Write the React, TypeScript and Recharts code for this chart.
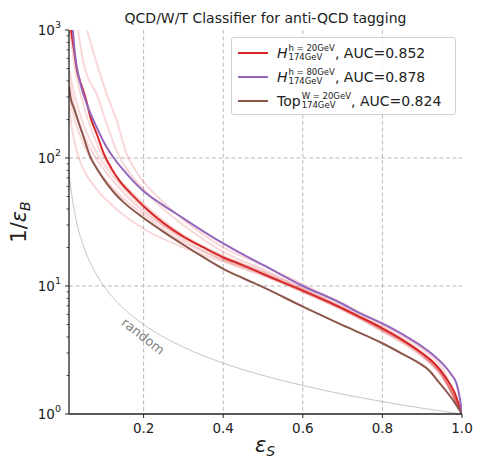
import React from "react";
import { LineChart, Line, XAxis, YAxis, CartesianGrid, ReferenceDot, Legend } from "recharts";

// signal efficiency (x) and background rejection 1/eps_B (y)
const effH20 = [0.0175, 0.025, 0.033, 0.044, 0.054, 0.067, 0.083, 0.1, 0.12, 0.14, 0.17, 0.2, 0.25, 0.3, 0.35, 0.4, 0.45, 0.5, 0.6, 0.69, 0.74, 0.8, 0.85, 0.9, 0.93, 0.958, 0.98, 1.0];
const rejH20 = [1000, 700, 475, 370, 295, 205, 152, 108, 82, 66, 52, 42, 31, 24.3, 20, 16.7, 14.5, 12.4, 9.2, 6.9, 5.8, 4.67, 3.8, 2.98, 2.5, 1.95, 1.5, 1.0];

const effH80 = [0.022, 0.026, 0.042, 0.058, 0.083, 0.108, 0.125, 0.15, 0.2, 0.248, 0.3, 0.348, 0.4, 0.44, 0.5, 0.6, 0.69, 0.74, 0.8, 0.85, 0.9, 0.93, 0.958, 0.975, 0.986, 0.995, 1.0];
const rejH80 = [1000, 720, 373, 260, 171, 120, 100, 80, 55, 43, 33.8, 27, 21.5, 18.3, 14.6, 10.0, 7.5, 6.2, 5.1, 4.2, 3.36, 2.85, 2.34, 2.0, 1.74, 1.3, 1.0];

const effTop = [0.0125, 0.016, 0.025, 0.033, 0.05, 0.065, 0.08, 0.1, 0.125, 0.15, 0.2, 0.25, 0.3, 0.35, 0.4, 0.45, 0.5, 0.6, 0.69, 0.8, 0.85, 0.9, 0.917, 0.94, 0.958, 0.98, 1.0];
const rejTop = [360, 300, 245, 205, 143, 104, 85, 68, 54, 45, 34, 26.5, 21, 16.8, 13.6, 11.5, 9.8, 6.9, 5.1, 3.57, 2.95, 2.41, 2.2, 1.8, 1.54, 1.25, 1.0];

// faint individual runs
const effRun1 = [0.058, 0.083, 0.108, 0.133, 0.158, 0.18, 0.2, 0.25, 0.3, 0.4, 0.5, 0.6, 0.7, 0.8, 0.9, 0.95, 1.0];
const rejRun1 = [1000, 536, 311, 194, 106, 80, 65, 45, 33, 20, 14.5, 10.3, 7.3, 5.0, 3.2, 2.3, 1.0];
const effRun2 = [0.035, 0.05, 0.083, 0.108, 0.133, 0.16, 0.2, 0.25, 0.3, 0.4, 0.5, 0.6, 0.7, 0.8, 0.9, 0.95, 1.0];
const rejRun2 = [1000, 536, 311, 182, 112, 80, 57, 40, 30, 18.5, 13.5, 9.6, 6.9, 4.8, 3.0, 2.1, 1.0];
const effRun3 = [0.015, 0.025, 0.04, 0.06, 0.09, 0.12, 0.16, 0.2, 0.3, 0.4, 0.5, 0.6, 0.7, 0.8, 0.9, 0.95, 1.0];
const rejRun3 = [1000, 560, 330, 200, 115, 80, 58, 44, 25, 17.2, 13, 9.5, 6.8, 4.6, 2.9, 2.0, 1.0];
const effRun4 = [0.0125, 0.02, 0.04, 0.06, 0.09, 0.13, 0.2, 0.3, 0.4, 0.5, 0.6, 0.7, 0.8, 0.9, 0.95, 1.0];
const rejRun4 = [500, 380, 220, 150, 100, 68, 40, 23, 16, 12.3, 9.0, 6.5, 4.5, 2.85, 2.0, 1.0];
const effRun5 = [0.0125, 0.02, 0.033, 0.05, 0.08, 0.12, 0.2, 0.3, 0.4, 0.5, 0.6, 0.7, 0.8, 0.9, 0.95, 1.0];
const rejRun5 = [260, 170, 110, 80, 58, 43, 28, 20, 15.5, 12, 9.0, 6.5, 4.4, 2.8, 1.95, 1.0];
const effRun6 = [0.0125, 0.02, 0.04, 0.07, 0.1, 0.15, 0.2, 0.3, 0.4, 0.5, 0.6, 0.7, 0.8, 0.9, 0.95, 1.0];
const rejRun6 = [330, 240, 150, 95, 70, 48, 36, 22, 16, 12.4, 9.1, 6.6, 4.5, 2.9, 2.0, 1.0];
const effRun7 = [0.0125, 0.025, 0.05, 0.08, 0.12, 0.2, 0.3, 0.4, 0.5, 0.6, 0.7, 0.8, 0.9, 0.95, 1.0];
const rejRun7 = [420, 260, 150, 100, 68, 38, 24, 17, 12.8, 9.3, 6.7, 4.6, 2.95, 2.05, 1.0];

const effRandom = [0.0125, 0.015, 0.02, 0.03, 0.05, 0.07, 0.1, 0.15, 0.2, 0.3, 0.4, 0.5, 0.6, 0.7, 0.8, 0.9, 1.0];
const rejRandom = [80, 66.7, 50, 33.3, 20, 14.3, 10, 6.67, 5, 3.33, 2.5, 2, 1.67, 1.43, 1.25, 1.11, 1.0];

const xTicks = [0.2, 0.4, 0.6, 0.8, 1.0];
const yMajor = [1, 10, 100, 1000];
const yMinor = [2, 3, 4, 5, 6, 7, 8, 9, 20, 30, 40, 50, 60, 70, 80, 90, 200, 300, 400, 500, 600, 700, 800, 900];

const legendRows = [
  { color: "#d62728", head: "H", sup: "h = 20GeV", sub: "174GeV", auc: "0.852", italic: true },
  { color: "#9467bd", head: "H", sup: "h = 80GeV", sub: "174GeV", auc: "0.878", italic: true },
  { color: "#8c564b", head: "Top", sup: "W = 20GeV", sub: "174GeV", auc: "0.824", italic: false },
];

const FONT = "DejaVu Sans, sans-serif";

const zip = (xs: number[], ys: number[]) => xs.map((x, i) => ({ x, y: ys[i] }));

const runs = [
  zip(effRun1, rejRun1),
  zip(effRun2, rejRun2),
  zip(effRun3, rejRun3),
  zip(effRun4, rejRun4),
  zip(effRun5, rejRun5),
  zip(effRun6, rejRun6),
  zip(effRun7, rejRun7),
];

function LogTick(props: any) {
  const { x, y, payload } = props;
  const v = payload.value;
  if (!yMajor.includes(v)) {
    return <line x1={x - 2.5} x2={x} y1={y} y2={y} stroke="#222" strokeWidth={0.8} />;
  }
  return (
    <g>
      <line x1={x - 4} x2={x} y1={y} y2={y} stroke="#222" strokeWidth={1} />
      <text x={x - 8} y={y + 5} textAnchor="end" fontFamily={FONT} fontSize={13.5} fill="#222">
        10
        <tspan dy={-7} fontSize={9.5}>{Math.round(Math.log10(v))}</tspan>
      </text>
    </g>
  );
}

function LegendBox() {
  return (
    <div
      style={{
        width: 223,
        height: 76,
        border: "1px solid #d0d0d0",
        borderRadius: 3,
        background: "rgba(255,255,255,0.8)",
        fontFamily: FONT,
        color: "#222",
        boxSizing: "content-box",
      }}
    >
      {legendRows.map((r, i) => (
        <div key={i} style={{ position: "relative", height: 24, marginTop: i === 0 ? 3 : 0 }}>
          <svg width={32} height={24} style={{ position: "absolute", left: 5, top: 0 }}>
            <line x1={1} x2={31} y1={12} y2={12} stroke={r.color} strokeWidth={2} />
          </svg>
          <div style={{ position: "absolute", left: 45, top: 3, whiteSpace: "nowrap", display: "flex", alignItems: "center", fontSize: 14 }}>
            <span style={{ fontStyle: r.italic ? "italic" : "normal" }}>{r.head}</span>
            <span style={{ display: "inline-flex", flexDirection: "column", fontSize: 8.5, lineHeight: "9px", marginLeft: 1 }}>
              <span>{r.sup}</span>
              <span>{r.sub}</span>
            </span>
            <span>, AUC={r.auc}</span>
          </div>
        </div>
      ))}
    </div>
  );
}

export default function App() {
  return (
    <div style={{ position: "absolute", left: 0, top: 0, width: 477, height: 458, background: "#fff" }}>
      <LineChart width={477} height={458} margin={{ top: 30, right: 15, left: 0, bottom: 0 }}>
        <text x={265.5} y={23} textAnchor="middle" fontFamily={FONT} fontSize={14} fill="#222">
          QCD/W/T Classifier for anti-QCD tagging
        </text>
        <CartesianGrid
          verticalValues={[0.2, 0.4, 0.6, 0.8]}
          horizontalValues={[10, 100]}
          stroke="#b0b0b0"
          strokeDasharray="4 2.5"
          strokeWidth={0.9}
        />
        <XAxis
          dataKey="x"
          type="number"
          domain={[0.0125, 1]}
          allowDataOverflow
          ticks={xTicks}
          interval={0}
          tickFormatter={(v: number) => v.toFixed(1)}
          height={44}
          tickSize={4}
          tickMargin={5}
          axisLine={{ stroke: "#222", strokeWidth: 1.3 }}
          tickLine={{ stroke: "#222" }}
          tick={{ fontFamily: FONT, fontSize: 13.5, fill: "#222" }}
          label={{
            content: () => (
              <text x={265} y={452} textAnchor="middle" fontFamily={FONT} fontSize={21} fill="#222">
                <tspan fontStyle="italic">ε</tspan>
                <tspan dy={4} fontSize={14} fontStyle="italic">S</tspan>
              </text>
            ),
          }}
        />
        <XAxis xAxisId="top" orientation="top" type="number" domain={[0.0125, 1]} height={0} tick={false} tickLine={false} axisLine={{ stroke: "#444", strokeWidth: 1.3 }} />
        <YAxis
          type="number"
          scale="log"
          domain={[1, 1000]}
          allowDataOverflow
          ticks={[...yMajor, ...yMinor].sort((a, b) => a - b)}
          interval={0}
          width={69}
          tickSize={0}
          tickMargin={0}
          tickLine={false}
          tick={<LogTick />}
          axisLine={{ stroke: "#222", strokeWidth: 1.3 }}
          label={{
            content: () => (
              <text x={0} y={0} transform="translate(26,222) rotate(-90)" textAnchor="middle" fontFamily={FONT} fontSize={21} fill="#222">
                1/<tspan fontStyle="italic">ε</tspan>
                <tspan dy={4} fontSize={14} fontStyle="italic">B</tspan>
              </text>
            ),
          }}
        />
        <YAxis yAxisId="right" orientation="right" type="number" scale="log" domain={[1, 1000]} width={0} tick={false} tickLine={false} axisLine={{ stroke: "#444", strokeWidth: 1.3 }} />
        {runs.map((d, i) => (
          <Line
            key={"run" + i}
            type="monotone"
            data={d}
            dataKey="y"
            stroke="#d62728"
            strokeOpacity={0.18}
            strokeWidth={2}
            dot={false}
            activeDot={false}
            isAnimationActive={false}
            legendType="none"
          />
        ))}
        <Line type="monotone" data={zip(effRandom, rejRandom)} dataKey="y" stroke="#a0a0a0" strokeWidth={0.6} dot={false} isAnimationActive={false} legendType="none" />
        <Line type="monotone" data={zip(effH20, rejH20)} dataKey="y" name="h20" stroke="#d62728" strokeWidth={2} dot={false} isAnimationActive={false} />
        <Line type="monotone" data={zip(effH80, rejH80)} dataKey="y" name="h80" stroke="#9467bd" strokeWidth={2} dot={false} isAnimationActive={false} />
        <Line type="monotone" data={zip(effTop, rejTop)} dataKey="y" name="top" stroke="#8c564b" strokeWidth={2} dot={false} isAnimationActive={false} />
        <ReferenceDot
          x={0.1975}
          y={4}
          r={0}
          fill="none"
          stroke="none"
          label={{
            content: (p: any) => {
              const cx = p.viewBox ? p.viewBox.x + (p.viewBox.width || 0) / 2 : 143;
              const cy = p.viewBox ? p.viewBox.y + (p.viewBox.height || 0) / 2 : 337;
              return (
                <text x={cx} y={cy} transform={`rotate(38 ${cx} ${cy})`} textAnchor="middle" dominantBaseline="middle" fontFamily={FONT} fontSize={13} fill="#808080">
                  random
                </text>
              );
            },
          }}
        />
        <Legend
          layout="vertical"
          align="center"
          verticalAlign="middle"
          wrapperStyle={{ left: 231, top: 37, width: 225 }}
          content={() => <LegendBox />}
        />
      </LineChart>
    </div>
  );
}
